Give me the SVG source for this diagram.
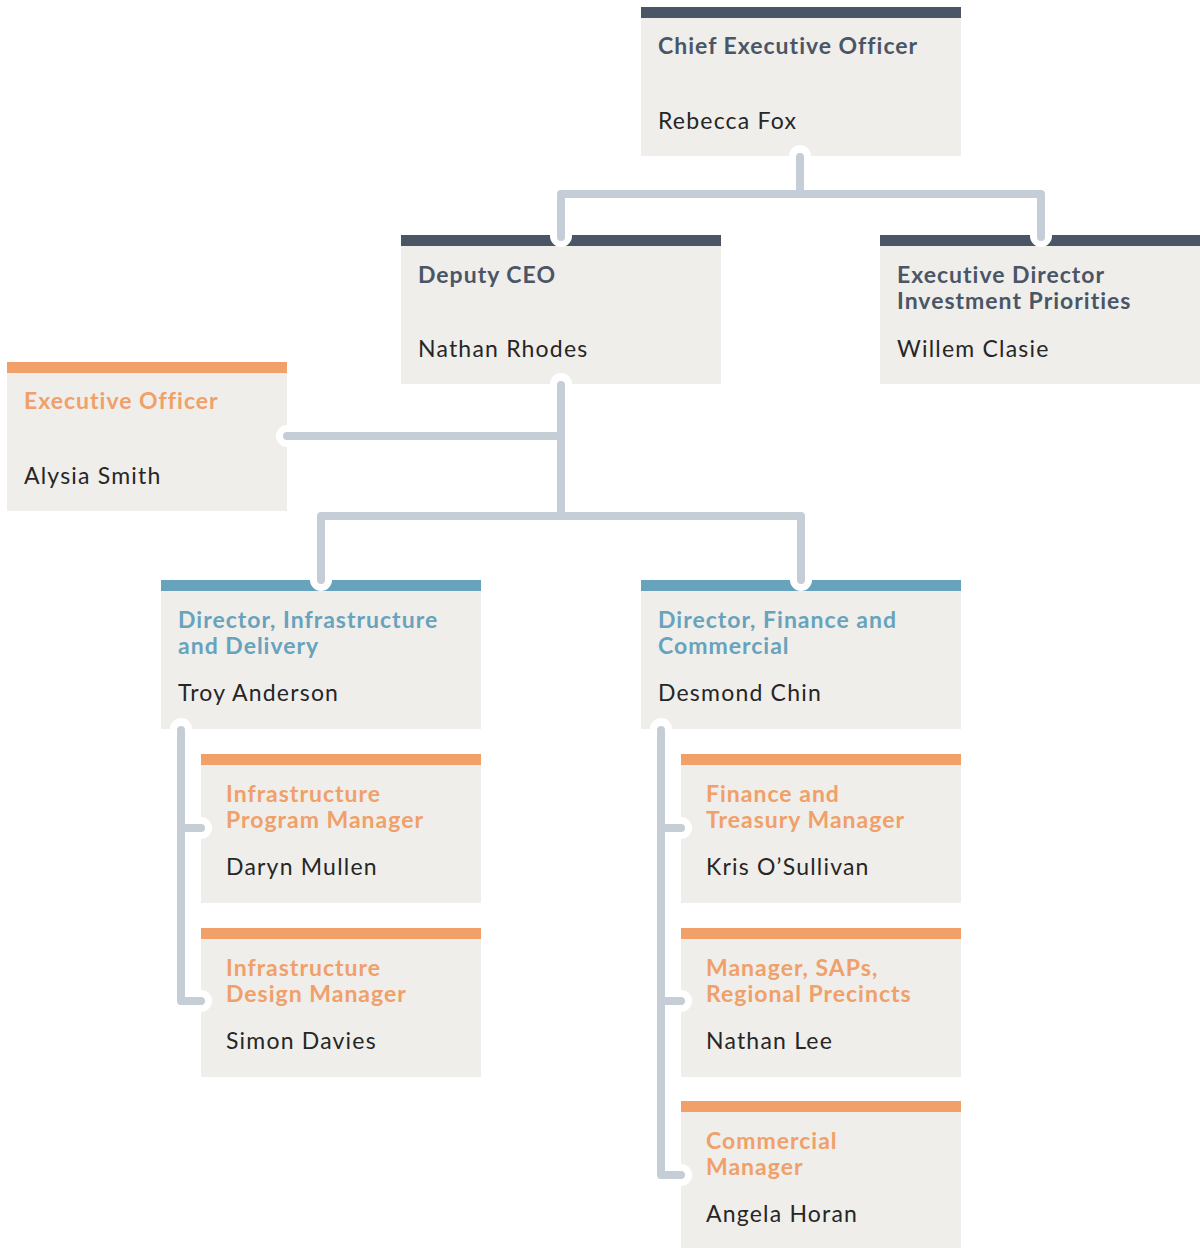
<svg xmlns="http://www.w3.org/2000/svg" width="1200" height="1248" viewBox="0 0 1200 1248">
<style>
.box{fill:#efeeeb}
.bd{fill:#4a5666}
.bo{fill:#f0a068}
.bb{fill:#67a3bc}
.t{font-family:Lato,"Liberation Sans",sans-serif;font-weight:700;font-size:23px;letter-spacing:1px}
.td{fill:#4a5666}
.to{fill:#f0a068}
.tb{fill:#67a3bc}
.n{font-family:Lato,"Liberation Sans",sans-serif;font-weight:400;font-size:23px;letter-spacing:1.2px;fill:#262626}
.cap{fill:#ffffff}
.ln{fill:none;stroke:#c5cdd6;stroke-width:8;stroke-linecap:round;stroke-linejoin:round}
</style>
<rect width="1200" height="1248" fill="#ffffff"/>
<g id="ceo"><rect class="box" x="641" y="7" width="320" height="149"/><rect class="bd" x="641" y="7" width="320" height="11"/>
<text class="t td" x="658" y="54">Chief Executive Officer</text><text class="n" x="658" y="129">Rebecca Fox</text></g>
<g id="deputy"><rect class="box" x="401" y="235" width="320" height="149"/><rect class="bd" x="401" y="235" width="320" height="11"/>
<text class="t td" x="418" y="283">Deputy CEO</text><text class="n" x="418" y="357">Nathan Rhodes</text></g>
<g id="execdir"><rect class="box" x="880" y="235" width="320" height="149"/><rect class="bd" x="880" y="235" width="320" height="11"/>
<text class="t td" x="897" y="283">Executive Director</text><text class="t td" x="897" y="309">Investment Priorities</text><text class="n" x="897" y="357">Willem Clasie</text></g>
<g id="execofficer"><rect class="box" x="7" y="362" width="280" height="149"/><rect class="bo" x="7" y="362" width="280" height="11"/>
<text class="t to" x="24" y="409">Executive Officer</text><text class="n" x="24" y="484">Alysia Smith</text></g>
<g id="dir-infra"><rect class="box" x="161" y="580" width="320" height="149"/><rect class="bb" x="161" y="580" width="320" height="11"/>
<text class="t tb" x="178" y="628">Director, Infrastructure</text><text class="t tb" x="178" y="654">and Delivery</text><text class="n" x="178" y="701">Troy Anderson</text></g>
<g id="dir-fin"><rect class="box" x="641" y="580" width="320" height="149"/><rect class="bb" x="641" y="580" width="320" height="11"/>
<text class="t tb" x="658" y="628">Director, Finance and</text><text class="t tb" x="658" y="654">Commercial</text><text class="n" x="658" y="701">Desmond Chin</text></g>
<g id="ipm"><rect class="box" x="201" y="754" width="280" height="149"/><rect class="bo" x="201" y="754" width="280" height="11"/>
<text class="t to" x="226" y="802">Infrastructure</text><text class="t to" x="226" y="828">Program Manager</text><text class="n" x="226" y="875">Daryn Mullen</text></g>
<g id="idm"><rect class="box" x="201" y="928" width="280" height="149"/><rect class="bo" x="201" y="928" width="280" height="11"/>
<text class="t to" x="226" y="976">Infrastructure</text><text class="t to" x="226" y="1002">Design Manager</text><text class="n" x="226" y="1049">Simon Davies</text></g>
<g id="ftm"><rect class="box" x="681" y="754" width="280" height="149"/><rect class="bo" x="681" y="754" width="280" height="11"/>
<text class="t to" x="706" y="802">Finance and</text><text class="t to" x="706" y="828">Treasury Manager</text><text class="n" x="706" y="875">Kris O’Sullivan</text></g>
<g id="saps"><rect class="box" x="681" y="928" width="280" height="149"/><rect class="bo" x="681" y="928" width="280" height="11"/>
<text class="t to" x="706" y="976">Manager, SAPs,</text><text class="t to" x="706" y="1002">Regional Precincts</text><text class="n" x="706" y="1049">Nathan Lee</text></g>
<g id="cm"><rect class="box" x="681" y="1101" width="280" height="147"/><rect class="bo" x="681" y="1101" width="280" height="11"/>
<text class="t to" x="706" y="1149">Commercial</text><text class="t to" x="706" y="1175">Manager</text><text class="n" x="706" y="1222">Angela Horan</text></g>
<g id="connectors">
<g class="cap">
<circle cx="800" cy="156" r="11"/><circle cx="561" cy="236" r="11"/><circle cx="1041" cy="236" r="11"/>
<circle cx="561" cy="384" r="11"/><circle cx="287" cy="436" r="11"/>
<circle cx="321" cy="580" r="11"/><circle cx="801" cy="580" r="11"/>
<circle cx="181" cy="729" r="11"/><circle cx="661" cy="729" r="11"/>
<circle cx="201" cy="828" r="11"/><circle cx="201" cy="1001" r="11"/>
<circle cx="681" cy="828" r="11"/><circle cx="681" cy="1001" r="11"/><circle cx="681" cy="1175" r="11"/>
</g>
<path class="ln" d="M800 157 V194 M561 237 V194 H1041 V237"/>
<path class="ln" d="M561 385 V516 M287 436 H561 M321 580 V516 H801 V580"/>
<path class="ln" d="M181 730 V1001 H201 M181 828 H201"/>
<path class="ln" d="M661 730 V1175 H681 M661 828 H681 M661 1001 H681"/>
</g>
</svg>
